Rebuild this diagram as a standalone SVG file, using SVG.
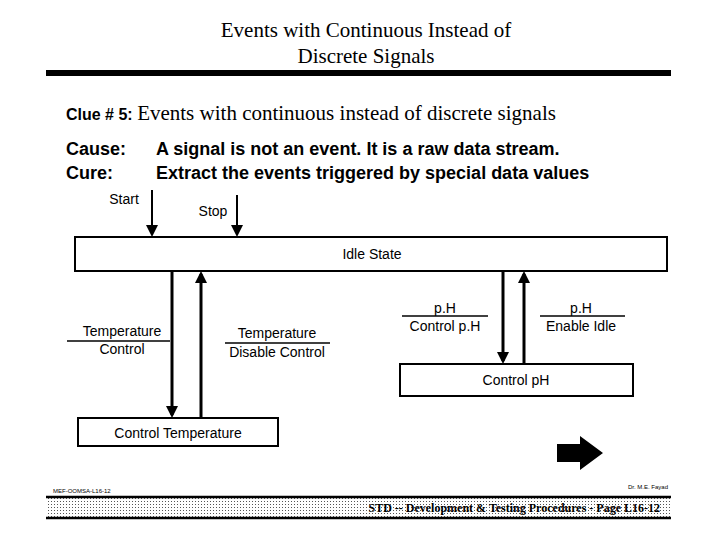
<svg xmlns="http://www.w3.org/2000/svg" width="720" height="540" viewBox="0 0 720 540">
<style>
.s{font-family:"Liberation Sans",Arial,sans-serif;fill:#000}
.t{font-family:"Liberation Serif","Times New Roman",serif;fill:#000}
.b{font-weight:bold}
.box{fill:#fff;stroke:#000;stroke-width:2}
.ln{stroke:#000;stroke-width:3;fill:none}
.bar{stroke:#000;stroke-width:1.3}
</style>
<defs>
<marker id="ah" markerWidth="4" markerHeight="4" refX="3" refY="2" orient="auto" markerUnits="strokeWidth"><path d="M0,0 L4,2 L0,4 z" fill="#000"/></marker>
<marker id="ah2" markerWidth="6" markerHeight="6" refX="5" refY="3" orient="auto" markerUnits="strokeWidth"><path d="M0,0 L6,3 L0,6 z" fill="#000"/></marker>
<pattern id="dots" width="3" height="3" patternUnits="userSpaceOnUse"><rect width="3" height="3" fill="#fff"/><rect width="1" height="1" fill="#555"/></pattern>
</defs>
<rect width="720" height="540" fill="#fff"/>
<text class="t" x="366" y="37" font-size="21" text-anchor="middle">Events with Continuous Instead of</text>
<text class="t" x="366" y="63" font-size="21" text-anchor="middle">Discrete Signals</text>
<rect x="46" y="70" width="625" height="6" fill="#000"/>
<text x="66" y="120"><tspan class="s b" font-size="16">Clue # 5: </tspan><tspan class="t" font-size="21">Events with continuous instead of discrete signals</tspan></text>
<text class="s b" x="66" y="155" font-size="18">Cause:</text>
<text class="s b" x="156" y="155" font-size="18">A signal is not an event.  It is a raw data stream.</text>
<text class="s b" x="66" y="179" font-size="18">Cure:</text>
<text class="s b" x="156" y="179" font-size="18">Extract the events triggered by special data values</text>

<g id="idle"><rect class="box" x="75" y="237" width="592" height="34"/><text class="s" x="372" y="259" font-size="14" text-anchor="middle">Idle State</text></g>
<g id="ctemp"><rect class="box" x="78" y="418" width="200" height="28"/><text class="s" x="178" y="438" font-size="14" text-anchor="middle">Control Temperature</text></g>
<g id="cph"><rect class="box" x="400" y="364" width="233" height="32"/><text class="s" x="516" y="385" font-size="14" text-anchor="middle">Control pH</text></g>

<g id="connectors">
<line x1="152" y1="190" x2="152" y2="235" stroke="#000" stroke-width="2" marker-end="url(#ah2)"/>
<line x1="237" y1="195" x2="237" y2="235" stroke="#000" stroke-width="2" marker-end="url(#ah2)"/>
<line class="ln" x1="172" y1="271" x2="172" y2="415" marker-end="url(#ah)"/>
<line class="ln" x1="201" y1="418" x2="201" y2="274" marker-end="url(#ah)"/>
<line class="ln" x1="503" y1="271" x2="503" y2="361" marker-end="url(#ah)"/>
<line class="ln" x1="524" y1="364" x2="524" y2="274" marker-end="url(#ah)"/>
</g>
<g id="labels">
<text class="s" x="124" y="204" font-size="14" text-anchor="middle">Start</text>
<text class="s" x="213" y="216" font-size="14" text-anchor="middle">Stop</text>
<text class="s" x="122" y="336" font-size="14" text-anchor="middle">Temperature</text>
<line class="bar" x1="67" y1="341" x2="170" y2="341"/>
<text class="s" x="122" y="354" font-size="14" text-anchor="middle">Control</text>
<text class="s" x="277" y="338" font-size="14" text-anchor="middle">Temperature</text>
<line class="bar" x1="225" y1="343" x2="330" y2="343"/>
<text class="s" x="277" y="357" font-size="14" text-anchor="middle">Disable Control</text>
<text class="s" x="445" y="313" font-size="14" text-anchor="middle">p.H</text>
<line class="bar" x1="402" y1="316" x2="488" y2="316"/>
<text class="s" x="445" y="331" font-size="14" text-anchor="middle">Control p.H</text>
<text class="s" x="581" y="313" font-size="14" text-anchor="middle">p.H</text>
<line class="bar" x1="540" y1="316" x2="625" y2="316"/>
<text class="s" x="581" y="331" font-size="14" text-anchor="middle">Enable Idle</text>
</g>
<polygon points="557,444 580,444 580,436 603,453 580,470 580,462 557,462" fill="#000"/>
<text class="s" x="53" y="493" font-size="6">MEF-OOMSA-L16-12</text>
<text class="s" x="668" y="489" font-size="6" text-anchor="end">Dr. M.E. Fayad</text>
<rect x="46" y="497" width="625" height="21" fill="url(#dots)"/>
<line x1="46" y1="497" x2="671" y2="497" stroke="#000" stroke-width="2.5"/>
<line x1="46" y1="518" x2="671" y2="518" stroke="#000" stroke-width="2.5"/>
<text class="t" x="660" y="512" font-size="12" text-anchor="end" font-weight="bold">STD -- Development &amp; Testing Procedures  - Page L16-12</text>
</svg>
